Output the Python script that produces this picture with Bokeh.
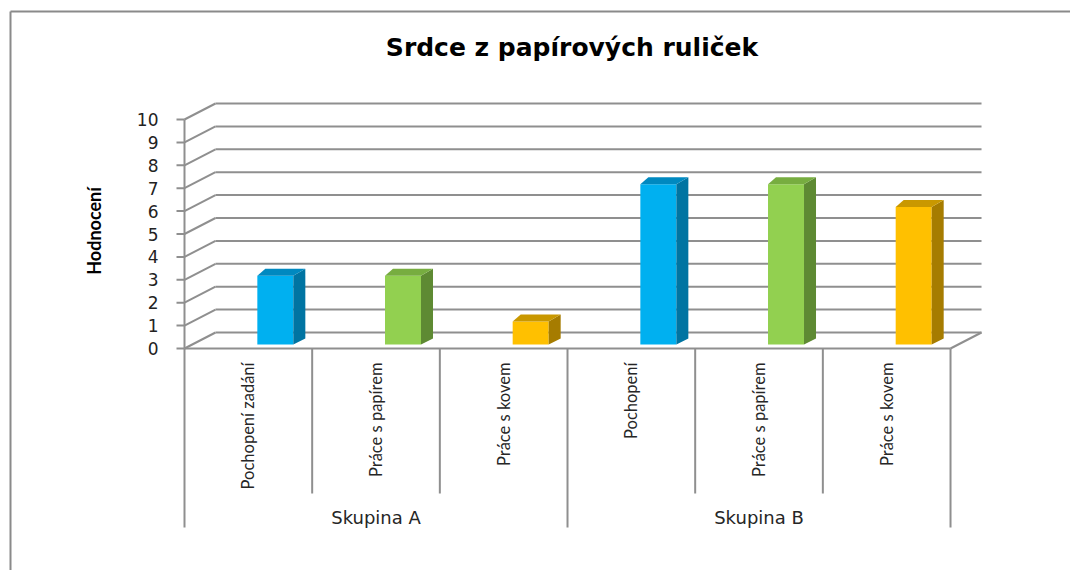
from bokeh.plotting import figure
from bokeh.models import Range1d, ColumnDataSource
from bokeh.core.properties import value
from bokeh.embed import file_html
from bokeh.resources import INLINE
import math

# ---------------- data ----------------
title_text = "Srdce z papírových ruliček"
y_axis_label = "Hodnocení"
groups = ["Skupina A", "Skupina B"]
categories = ["Pochopení zadání", "Práce s papírem", "Práce s kovem",
              "Pochopení", "Práce s papírem", "Práce s kovem"]
values_a = [3, 3, 1]
values_b = [7, 7, 6]
y_ticks = [0, 1, 2, 3, 4, 5, 6, 7, 8, 9, 10]

# ---------------- style / layout ----------------
W, H = 1070, 570
CAT_PX = 127.67        # pixels per category slot
UNIT_PX = 22.9         # pixels per rating unit
AXIS_LEFT_PX = 184     # frame px of the front value axis
FLOOR_TOP_PX = 348     # frame px of the front floor

def dx(px):
    return px / CAT_PX

def dy(px):
    return px / UNIT_PX

x0 = -dx(AXIS_LEFT_PX)
x1 = x0 + dx(W)
y1 = dy(FLOOR_TOP_PX)
y0 = y1 - dy(H)

GRID = "#8f8f8f"
front_cols = ["#00B0F0", "#92D050", "#FFC000"]
side_cols = ["#0074A2", "#5E8A33", "#A67C00"]
top_cols = ["#0089C0", "#77AD40", "#C99800"]

p = figure(width=W, height=H, x_range=Range1d(x0, x1), y_range=Range1d(y0, y1),
           x_axis_type=None, y_axis_type=None, toolbar_location=None,
           output_backend="svg", min_border=0, outline_line_color=None,
           background_fill_color="white", border_fill_color="white")
p.grid.visible = False

n_slots = len(categories)
ymax = y_ticks[-1]
BDX, BDY = dx(31), dy(16)   # depth of the 3D box

# chart-area frame (left and top edges)
p.line([dx(10 - 184), dx(10 - 184)], [y0, dy(337)], line_color="#8a8a8a", line_width=2)
p.line([dx(10 - 184), x1], [dy(337), dy(337)], line_color="#8a8a8a", line_width=2)

# back wall gridlines + left wall diagonals
p.segment(x0=[BDX] * len(y_ticks), y0=[t + BDY for t in y_ticks],
          x1=[n_slots + BDX] * len(y_ticks), y1=[t + BDY for t in y_ticks],
          line_color=GRID, line_width=2)
p.segment(x0=[0] * len(y_ticks), y0=y_ticks,
          x1=[BDX] * len(y_ticks), y1=[t + BDY for t in y_ticks],
          line_color=GRID, line_width=2)
# floor front edge and right edge
p.line([0, n_slots], [0, 0], line_color=GRID, line_width=2)
p.line([n_slots, n_slots + BDX], [0, BDY], line_color=GRID, line_width=2)
# value axis line and ticks
p.line([0, 0], [0, ymax], line_color=GRID, line_width=2)
p.segment(x0=[-dx(8)] * len(y_ticks), y0=y_ticks, x1=[0] * len(y_ticks), y1=y_ticks,
          line_color=GRID, line_width=2)
p.text(x=[-dx(26)] * len(y_ticks), y=y_ticks, text=[str(t) for t in y_ticks],
       text_font=value("DejaVu Sans"), text_font_size="17px", text_color="#222222",
       text_align="right", text_baseline="middle")

# category dividers
n_per_group = len(values_a)
grp_bounds = [g * n_per_group for g in range(len(groups) + 1)]
inner_bounds = [i for i in range(n_slots + 1) if i not in grp_bounds]
p.segment(x0=grp_bounds, y0=[0] * len(grp_bounds), x1=grp_bounds,
          y1=[-dy(179)] * len(grp_bounds), line_color=GRID, line_width=2)
p.segment(x0=inner_bounds, y0=[0] * len(inner_bounds), x1=inner_bounds,
          y1=[-dy(145)] * len(inner_bounds), line_color=GRID, line_width=2)

# category labels (rotated)
p.text(x=[i + 0.5 for i in range(n_slots)], y=[-dy(14)] * n_slots, text=categories,
       angle=math.pi / 2, text_font=value("Lato"), text_font_size="16.5px",
       text_color="#262626", text_align="right", text_baseline="middle")
# group labels
p.text(x=[g * n_per_group + n_per_group / 2 for g in range(len(groups))],
       y=[-dy(169)] * len(groups), text=groups,
       text_font=value("DejaVu Sans"), text_font_size="18px", text_color="#262626",
       text_align="center", text_baseline="middle")

# 3D bars
all_vals = values_a + values_b
base = dy(4)
half = dx(18)
shift = dx(27)
for i, v in enumerate(all_vals):
    k = i % n_per_group
    cx = i + 0.5 + shift
    L, R = cx - half, cx + half
    B, T = base, base + v
    src = ColumnDataSource(dict(
        xs=[[R, R + dx(12), R + dx(12), R], [L, L + dx(8), R + dx(12), R]],
        ys=[[B, B + dy(6), T + dy(7), T], [T, T + dy(7), T + dy(7), T]],
        c=[side_cols[k], top_cols[k]]))
    p.quad(left=[L], right=[R], bottom=[B], top=[T], fill_color=front_cols[k],
           line_color=None)
    p.patches("xs", "ys", source=src, fill_color="c", line_color=None)

# y-axis title
p.text(x=[-dx(91)], y=[ymax / 2 + dy(3)], text=[y_axis_label], angle=math.pi / 2,
       text_font=value("Lato"), text_font_style="bold", text_font_size="18px",
       text_color="#000000", text_align="center", text_baseline="middle")
# chart title
p.text(x=[n_slots / 2 + dx(4.5)], y=[dy(301)], text=[title_text],
       text_font=value("DejaVu Sans"), text_font_style="bold", text_font_size="25px",
       text_color="#000000", text_align="center", text_baseline="middle")

open("out.html", "w").write(file_html(p, INLINE))
